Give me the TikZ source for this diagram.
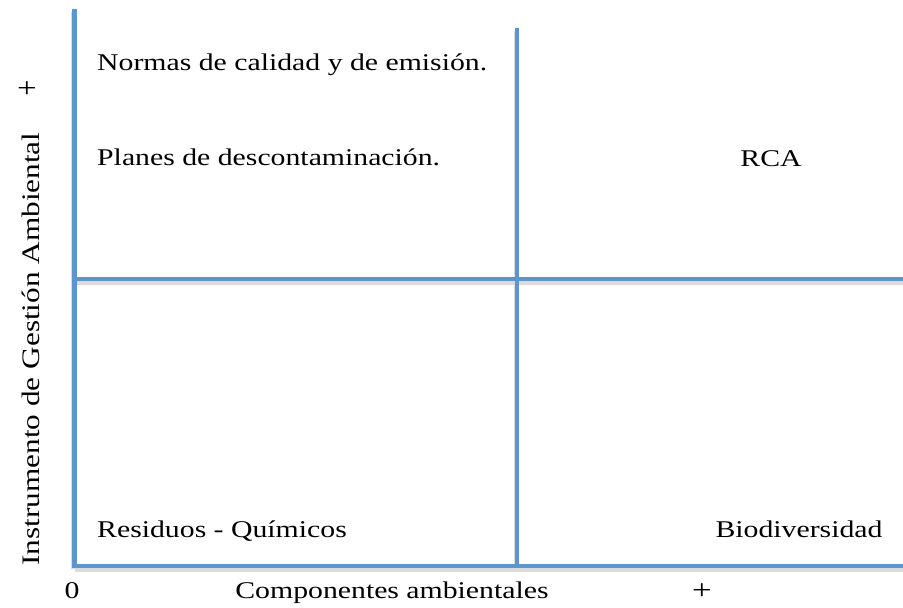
\documentclass[tikz,border=0pt]{standalone}
\usepackage{fontspec}
\setmainfont{Liberation Serif}[FakeStretch=1.24]
\begin{document}
\begin{tikzpicture}[x=1pt,y=-1pt,
  axisline/.style={draw={rgb,255:red,96;green,148;blue,205}, line width=4.2pt},
  shadowline/.style={draw=black!14, line width=4.5pt},
  lbl/.style={font=\fontsize{24}{28}\selectfont, inner sep=0pt},
  plussign/.style={font=\fontsize{28}{32}\selectfont, inner sep=0pt}]
\useasboundingbox (0,0) rectangle (903,608);
% named corner points
\coordinate (ytop) at (74.5,9);
\coordinate (orig) at (74.5,566);
\coordinate (xend) at (903,566);
\coordinate (mtop) at (517,28);
\coordinate (mbot) at (517,566);
\coordinate (hl) at (74.5,279);
\coordinate (hr) at (903,279);
% shadows
\draw[shadowline] ([yshift=-3.5]hl) -- ([yshift=-3.5]hr);
\draw[shadowline] ([yshift=-3.5]orig) -- ([yshift=-3.5]xend);
\draw[shadowline] ([xshift=-1,yshift=-3]ytop) -- ([xshift=-1,yshift=-3]orig);
\draw[shadowline] ([xshift=-1,yshift=-3]mtop) -- ([xshift=-1,yshift=-3]mbot);
% lines
\draw[axisline] (hl) -- (hr);
\draw[axisline] (mtop) -- (mbot);
\draw[axisline, line join=miter] (ytop) -- (orig) -- (xend);
% texts
\node[lbl, anchor=base west] (normas) at (97,70) {Normas de calidad y de emisión.};
\node[lbl, anchor=base west] (planes) at (97,165) {Planes de descontaminación.};
\node[lbl, anchor=base] (rca) at (771,166) {RCA};
\node[lbl, anchor=base west] (resid) at (97,537) {Residuos - Químicos};
\node[lbl, anchor=base] (bio) at (799,537) {Biodiversidad};
\node[lbl, anchor=base] (zero) at (72,598) {0};
\node[lbl, anchor=base] (xlab) at (392,598) {Componentes ambientales};
\node[plussign, anchor=base] (xplus) at (702,599) {+};
\node[lbl, font=\fontsize{25.2}{29}\selectfont, anchor=base, rotate=90] (ylab) at (39,349) {Instrumento de Gestión Ambiental};
\node[plussign] (yplus) at (27,90) {+};
\end{tikzpicture}
\end{document}
